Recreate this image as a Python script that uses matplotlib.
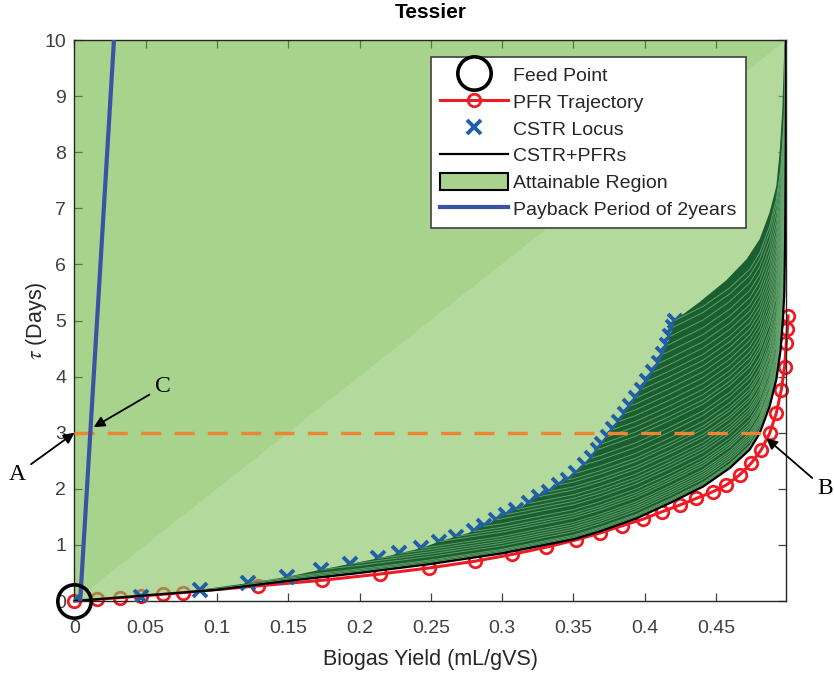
import numpy as np
import matplotlib
matplotlib.use('Agg')
import matplotlib.pyplot as plt
from matplotlib.patches import Patch, Polygon

plt.rcParams['font.family'] = ['Liberation Sans', 'DejaVu Sans']
plt.rcParams['mathtext.fontset'] = 'stix'

# ---- data ----
# CSTR+PFRs boundary (black curve)
cp_x = np.array([0, 0.02, 0.05, 0.10, 0.15, 0.20, 0.25, 0.30, 0.35, 0.3685, 0.394,
                 0.4176, 0.441, 0.4597, 0.4737, 0.4807, 0.4877, 0.4924, 0.4954, 0.4970,
                 0.4980, 0.4986, 0.4990, 0.4992])
cp_y = np.array([0, 0.04, 0.10, 0.20, 0.36, 0.50, 0.66, 0.85, 1.10, 1.24, 1.47,
                 1.745, 2.04, 2.37, 2.70, 2.99, 3.47, 3.95, 4.48, 5.02,
                 5.50, 6.50, 8.00, 10.0])

# PFR trajectory from the feed (red circles)
pfr_x = np.array([0, 0.016, 0.032, 0.047, 0.062, 0.076, 0.129, 0.174, 0.214, 0.249,
                  0.281, 0.307, 0.331, 0.352, 0.3685, 0.384, 0.399, 0.412, 0.4246, 0.4363,
                  0.448, 0.4574, 0.4667, 0.4749, 0.4819, 0.4877, 0.4924, 0.4959, 0.4982,
                  0.4994, 0.5002, 0.5006])
pfr_y = np.array([0, 0.03, 0.06, 0.09, 0.12, 0.15, 0.27, 0.37, 0.48, 0.59,
                  0.71, 0.83, 0.96, 1.09, 1.21, 1.34, 1.46, 1.59, 1.71, 1.83,
                  1.95, 2.07, 2.25, 2.46, 2.70, 2.99, 3.35, 3.77, 4.18,
                  4.60, 4.85, 5.08])

# CSTR locus (blue crosses)
cstr_x = np.array([0, 0.047, 0.088, 0.122, 0.149, 0.173, 0.193, 0.213, 0.228, 0.243,
                   0.256, 0.268, 0.280, 0.287, 0.296, 0.303, 0.310, 0.319, 0.326, 0.333,
                   0.340, 0.346, 0.352, 0.358, 0.363, 0.367, 0.370, 0.374, 0.378, 0.382,
                   0.386, 0.390, 0.394, 0.398, 0.402, 0.406, 0.410, 0.413, 0.416, 0.418,
                   0.420, 0.421])
cstr_y = np.array([0, 0.08, 0.20, 0.32, 0.43, 0.56, 0.66, 0.76, 0.85, 0.94,
                   1.06, 1.15, 1.24, 1.33, 1.45, 1.54, 1.63, 1.74, 1.86, 1.95,
                   2.07, 2.16, 2.28, 2.43, 2.55, 2.70, 2.80, 2.93, 3.06, 3.20,
                   3.34, 3.48, 3.62, 3.77, 3.92, 4.08, 4.24, 4.40, 4.56, 4.72,
                   4.88, 5.00])

# PFR trajectory from the last CSTR point (upper edge of the dark region)
up_x = np.array([0.421, 0.4386, 0.4574, 0.4714, 0.4807, 0.4877, 0.4924, 0.4947,
                 0.4966, 0.4975, 0.4985, 0.4992])
up_y = np.array([5.00, 5.33, 5.72, 6.09, 6.45, 6.93, 7.40, 8.00,
                 8.77, 9.48, 10.2, 11.0])

# payback period line and tau = 3 days line
pay_x = [0.004, 0.0277]
pay_y = [0, 10]
tau_x = [0, 0.485]
tau_y = [3, 3]

xticks = [0, 0.05, 0.1, 0.15, 0.2, 0.25, 0.3, 0.35, 0.4, 0.45]
xticklabels = ['0', '0.05', '0.1', '0.15', '0.2', '0.25', '0.3', '0.35', '0.4', '0.45']
yticks = list(range(0, 11))

# ---- figure ----
fig = plt.figure(figsize=(8.34, 6.75), dpi=100)
ax = fig.add_axes([0.0893, 0.1096, 0.8537, 0.8311])
ax.set_xlim(0, 0.4995)
ax.set_ylim(0, 10)

pfr_line, = ax.plot(pfr_x, pfr_y, color='#ed1c24', lw=2.2, marker='o', ms=9,
                    mfc='none', mew=2.0, zorder=1, clip_on=False)

# attainable region (semi-transparent green)
ax.fill(np.r_[cp_x, 0], np.r_[cp_y, 10], color=(97/255, 175/255, 46/255),
        alpha=0.55, lw=0, zorder=2)
# lighter fan of mixing lines from the feed point
ax.fill(cp_x, cp_y, color='white', alpha=0.14, lw=0, zorder=2.1)

cstr_line, = ax.plot(cstr_x, cstr_y, ls='none', marker='x', ms=10, mew=2.8,
                     color='#2160a6', zorder=3)

# dark region: PFR trajectories started from the CSTR locus
dark_x = np.r_[cstr_x, up_x[1:], cp_x[::-1]]
dark_y = np.r_[cstr_y, up_y[1:], cp_y[::-1]]
dark = Polygon(np.c_[dark_x, dark_y], closed=True, facecolor='#1b5f31',
               edgecolor='none', zorder=3.4)
ax.add_patch(dark)
for x0, t0 in zip(cstr_x, cstr_y):
    shift = t0 - np.interp(x0, cp_x, cp_y)
    m = cp_x > x0
    ln, = ax.plot(np.r_[x0, cp_x[m]], np.r_[t0, cp_y[m] + shift], color='#6aa870',
                  lw=0.7, alpha=0.85, zorder=3.5)
    ln.set_clip_path(dark)

cp_line, = ax.plot(cp_x, cp_y, color='k', lw=1.6, zorder=4)
ax.plot(tau_x, tau_y, color='#ef8432', lw=2.4, dashes=(6, 4), zorder=5)
pay_line, = ax.plot(pay_x, pay_y, color='#3a53a4', lw=3, zorder=5)
feed_line, = ax.plot([0], [0], ls='none', marker='o', ms=24, mfc='none', mec='k',
                     mew=2.6, clip_on=False, zorder=6)

region_patch = Patch(facecolor='#a9d38d', edgecolor='k', lw=1.5)
leg = ax.legend([feed_line, pfr_line, cstr_line, cp_line, region_patch, pay_line],
                ['Feed Point', 'PFR Trajectory', 'CSTR Locus', 'CSTR+PFRs',
                 'Attainable Region', 'Payback Period of 2years'],
                loc='upper right', bbox_to_anchor=(0.9425, 0.9697), fontsize=14,
                fancybox=False, framealpha=1, edgecolor='#404040', handlelength=3.5,
                handleheight=1.0, labelspacing=0.38, handletextpad=0.3,
                borderpad=0.45, numpoints=1, borderaxespad=0)
leg.get_frame().set_linewidth(1.2)
leg.set_zorder(8)
for t in leg.get_texts():
    t.set_color('#262626')

# annotations
arrow = dict(arrowstyle='-|>', color='k', lw=1.3, mutation_scale=16, shrinkA=2, shrinkB=0)
serif = ['Liberation Serif', 'DejaVu Serif']
ax.annotate('A', xy=(0, 3), xytext=(17.5, 201), textcoords='figure pixels',
            ha='center', va='center', fontsize=17, family=serif,
            arrowprops=arrow, annotation_clip=False, zorder=7)
ax.annotate('C', xy=(0.0135, 3.1), xytext=(162.5, 288), textcoords='figure pixels',
            ha='center', va='center', fontsize=17, family=serif,
            arrowprops=arrow, annotation_clip=False, zorder=7)
ax.annotate('B', xy=(0.4854, 2.9), xytext=(825, 186), textcoords='figure pixels',
            ha='center', va='center', fontsize=17, family=serif,
            arrowprops=arrow, annotation_clip=False, zorder=7)

ax.set_xticks(xticks)
ax.set_xticklabels(xticklabels)
ax.set_yticks(yticks)
ax.set_axisbelow(True)
ax.tick_params(direction='in', length=6, width=0.9, top=True, right=True,
               labelsize=14, colors='#404040')
ax.tick_params(axis='x', pad=14)
ax.tick_params(axis='y', pad=6)
for s in ax.spines.values():
    s.set_color('#262626')
    s.set_linewidth(1.0)

ax.set_xlabel('Biogas Yield (mL/gVS)', fontsize=15.5, color='#262626', labelpad=8)
ax.set_ylabel(r'$\tau$ (Days)', fontsize=15.5, color='#262626', labelpad=-3)
ax.set_title('Tessier', fontsize=15, fontweight='bold', color='#000000', pad=16)

fig.savefig('out.png', dpi=100)
